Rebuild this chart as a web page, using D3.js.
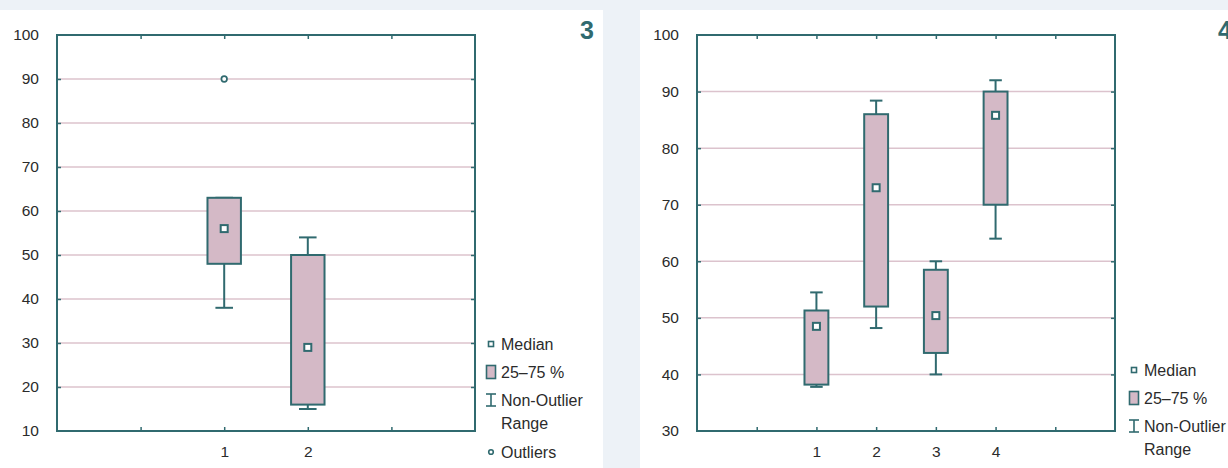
<!DOCTYPE html>
<html><head><meta charset="utf-8">
<script src="https://cdn.jsdelivr.net/npm/d3@7"></script>
<style>
html,body{margin:0;padding:0;background:#edf2f7;}
svg{display:block;font-family:"Liberation Sans",Arial,sans-serif;}
</style></head>
<body><svg id="c" width="1228" height="468"></svg>
<script>
// ---- data: panel 3 ----
const cats3 = ["1","2"];
const q1_3 = [48, 16];
const med3 = [56, 29];
const q3_3 = [63, 50];
const lo3 = [38, 15];
const hi3 = [63, 54];
const outliers3 = [{cat:"1", value:90}];
const yTicks3 = [10,20,30,40,50,60,70,80,90,100];
// ---- data: panel 4 ----
const cats4 = ["1","2","3","4"];
const q1_4 = [38.2, 52, 43.8, 70];
const med4 = [48.5, 73, 50.4, 85.8];
const q3_4 = [51.3, 86, 58.5, 90];
const lo4 = [37.8, 48.2, 40, 64];
const hi4 = [54.5, 88.4, 60, 92];
const outliers4 = [];
const yTicks4 = [30,40,50,60,70,80,90,100];

const C = {teal:"#306a6f", fill:"#d4b9c6", grid:"#dcc3cd", text:"#2b2b2b", bg:"#edf2f7"};
const FONT = "Liberation Sans, Arial, sans-serif";
const svg = d3.select("#c");

// panel backgrounds
svg.append("rect").attr("x",0).attr("y",10).attr("width",603).attr("height",458).attr("fill","#fff");
svg.append("rect").attr("x",640).attr("y",10).attr("width",588).attr("height",458).attr("fill","#fff");

function panel(o){
  const g = svg.append("g");
  const n = o.cats.length;
  const x = d3.scaleLinear().domain([0, n+3]).range([o.left, o.right]);
  const y = d3.scaleLinear().domain(d3.extent(o.yTicks)).range([o.bottom, o.top]);
  const step = x(1)-x(0);
  const bw = step*0.4, cw = step*0.21;
  const pos = i => x(i+2);

  // gridlines
  g.append("g").selectAll("line").data(o.yTicks.slice(1,-1)).join("line")
    .attr("x1",o.left).attr("x2",o.right).attr("y1",d=>y(d)).attr("y2",d=>y(d))
    .attr("stroke",C.grid).attr("stroke-width",1.5);

  // y labels
  const ya = g.append("g").attr("transform",`translate(${o.left-18},0)`)
    .call(d3.axisLeft(y).tickValues(o.yTicks).tickSize(0).tickPadding(0));
  ya.select(".domain").remove();
  ya.selectAll("text").attr("font-size",15.5).attr("fill",C.text).attr("font-family",FONT);

  // x labels
  const xa = g.append("g").attr("transform",`translate(0,${o.bottom+12})`)
    .call(d3.axisBottom(x).tickValues(d3.range(2,n+2)).tickFormat(d=>o.cats[d-2]).tickSize(0).tickPadding(0));
  xa.select(".domain").remove();
  xa.selectAll("text").attr("font-size",15.5).attr("fill",C.text).attr("dy","0.9em").attr("font-family",FONT);

  // inward ticks
  const tv = d3.range(1, n+3);
  const tk = [
    [d3.axisTop(x).tickValues(tv), `translate(0,${o.top})`],
    [d3.axisBottom(x).tickValues(tv), `translate(0,${o.bottom})`],
    [d3.axisLeft(y).tickValues(o.yTicks.slice(1,-1)), `translate(${o.left},0)`],
    [d3.axisRight(y).tickValues(o.yTicks.slice(1,-1)), `translate(${o.right},0)`]
  ];
  tk.forEach(([ax,tr])=>{
    const a = g.append("g").attr("transform",tr).call(ax.tickSize(-4).tickFormat(""));
    a.select(".domain").remove();
    a.selectAll("line").attr("stroke",C.teal).attr("stroke-width",1.5);
  });

  // boxes
  const bx = g.append("g");
  o.cats.forEach((c,i)=>{
    const cx = pos(i);
    const bg = bx.append("g").attr("stroke",C.teal).attr("stroke-width",2);
    bg.append("line").attr("x1",cx).attr("x2",cx).attr("y1",y(o.hi[i])).attr("y2",y(o.q3[i]));
    bg.append("line").attr("x1",cx).attr("x2",cx).attr("y1",y(o.q1[i])).attr("y2",y(o.lo[i]));
    bg.append("line").attr("x1",cx-cw/2).attr("x2",cx+cw/2).attr("y1",y(o.hi[i])).attr("y2",y(o.hi[i]));
    bg.append("line").attr("x1",cx-cw/2).attr("x2",cx+cw/2).attr("y1",y(o.lo[i])).attr("y2",y(o.lo[i]));
    bg.append("rect").attr("x",cx-bw/2).attr("width",bw).attr("y",y(o.q3[i])).attr("height",y(o.q1[i])-y(o.q3[i]))
      .attr("fill",C.fill);
    bg.append("rect").attr("x",cx-3.5).attr("y",y(o.med[i])-3.5).attr("width",7).attr("height",7).attr("fill","#fff");
  });
  o.outliers.forEach(d=>{
    const i = o.cats.indexOf(d.cat);
    bx.append("circle").attr("cx",pos(i)).attr("cy",y(d.value)).attr("r",2.8)
      .attr("fill","#fff").attr("stroke",C.teal).attr("stroke-width",1.7);
  });

  // frame
  g.append("rect").attr("x",o.left).attr("y",o.top).attr("width",o.right-o.left).attr("height",o.bottom-o.top)
    .attr("fill","none").attr("stroke",C.teal).attr("stroke-width",2);

  // panel label
  g.append("text").attr("x",o.labelX).attr("y",39).attr("font-size",25).attr("font-weight","bold")
    .attr("fill",C.teal).attr("text-anchor","start").attr("font-family",FONT).text(o.label);

  // legend
  const lg = g.append("g").attr("font-size",16).attr("fill",C.text).attr("font-family",FONT);
  const lx = o.legX, tx = o.legX+10;
  let ly = o.legY;
  lg.append("rect").attr("x",lx-2.5).attr("y",ly-2.5).attr("width",5).attr("height",5).attr("fill","#fff").attr("stroke",C.teal).attr("stroke-width",1.6);
  lg.append("text").attr("x",tx).attr("y",ly).attr("dy","0.35em").text("Median");
  ly += 28;
  lg.append("rect").attr("x",lx-4.5).attr("y",ly-6.5).attr("width",9).attr("height",13).attr("fill",C.fill).attr("stroke",C.teal).attr("stroke-width",1.6);
  lg.append("text").attr("x",tx).attr("y",ly).attr("dy","0.35em").text("25–75 %");
  ly += 28;
  const ib = lg.append("g").attr("stroke",C.teal).attr("stroke-width",1.6);
  ib.append("line").attr("x1",lx).attr("x2",lx).attr("y1",ly-6).attr("y2",ly+6);
  ib.append("line").attr("x1",lx-5).attr("x2",lx+5).attr("y1",ly-6).attr("y2",ly-6);
  ib.append("line").attr("x1",lx-5).attr("x2",lx+5).attr("y1",ly+6).attr("y2",ly+6);
  lg.append("text").attr("x",tx).attr("y",ly).attr("dy","0.35em").text("Non-Outlier");
  lg.append("text").attr("x",tx).attr("y",ly+23).attr("dy","0.35em").text("Range");
  if(o.showOutlierLegend){
    ly += 52;
    lg.append("circle").attr("cx",lx).attr("cy",ly).attr("r",2.3).attr("fill","#fff").attr("stroke",C.teal).attr("stroke-width",1.6);
    lg.append("text").attr("x",tx).attr("y",ly).attr("dy","0.35em").text("Outliers");
  }
}

panel({cats:cats3,q1:q1_3,med:med3,q3:q3_3,lo:lo3,hi:hi3,outliers:outliers3,yTicks:yTicks3,
  left:57,right:475,top:35,bottom:431,label:"3",labelX:580,legX:491,legY:344,showOutlierLegend:true});
panel({cats:cats4,q1:q1_4,med:med4,q3:q3_4,lo:lo4,hi:hi4,outliers:outliers4,yTicks:yTicks4,
  left:697,right:1115,top:35,bottom:431,label:"4",labelX:1218,legX:1134,legY:370,showOutlierLegend:false});
</script></body></html>
